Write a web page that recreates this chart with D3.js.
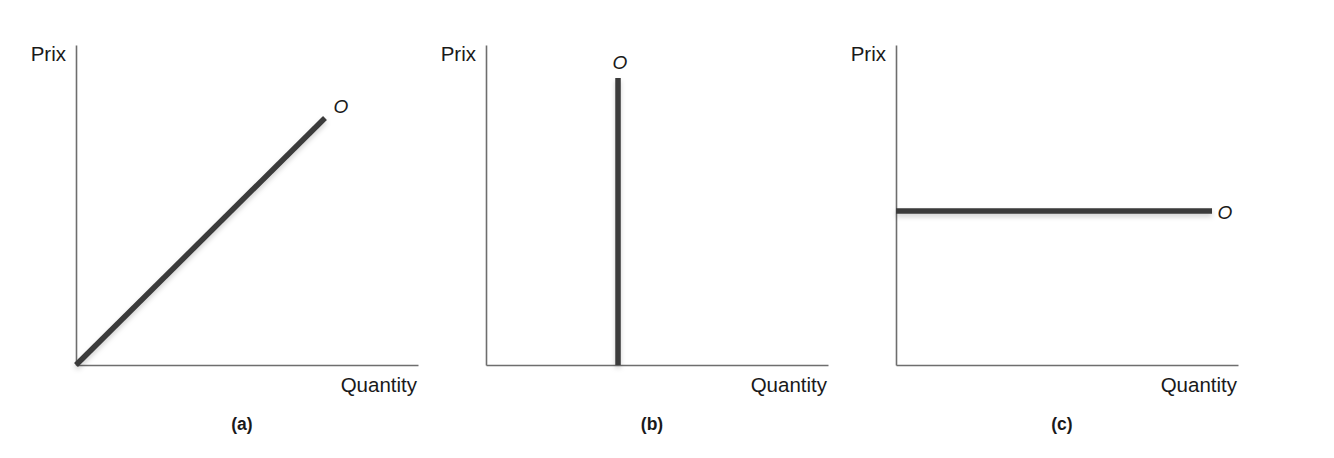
<!DOCTYPE html>
<html><head><meta charset="utf-8">
<script src="https://cdn.jsdelivr.net/npm/d3@7"></script>
<style>
html,body{margin:0;padding:0;background:#fff;}
text{font-family:"Liberation Sans",Arial,Helvetica,sans-serif;fill:#1a1a1a;}
</style></head><body>
<svg id="chart" width="1334" height="458"></svg>
<script>
// Panel definitions
const panels = ["(a)", "(b)", "(c)"];
const yLabel = "Prix";
const xLabel = "Quantity";
const curveLabel = "O";
// Supply curve endpoints (quantity, price) in a 0–10 abstract unit scale
const supplyA = [[0, 0], [7.28, 7.72]];
const supplyB = [[3.86, 0], [3.86, 8.97]];
const supplyC = [[0, 4.81], [9.24, 4.81]];
const supplies = [supplyA, supplyB, supplyC];

(function(){
const svg = d3.select("#chart");
const defs = svg.append("defs");
const f = defs.append("filter").attr("id","sh").attr("filterUnits","userSpaceOnUse")
  .attr("x",0).attr("y",0).attr("width",1334).attr("height",458);
f.append("feDropShadow").attr("dx",0).attr("dy",3).attr("stdDeviation",2.5).attr("flood-color","#000").attr("flood-opacity",0.18);

const originsX = [76, 486, 896];
const W = 342, yTop = 45, yBottom = 365;

panels.forEach((p, i) => {
  const x0 = originsX[i];
  const x = d3.scaleLinear().domain([0, 10]).range([x0, x0 + W]);
  const y = d3.scaleLinear().domain([0, 10]).range([yBottom, yTop]);
  const g = svg.append("g");

  g.append("g").attr("transform", `translate(0,${yBottom})`)
    .call(d3.axisBottom(x).ticks(0).tickSizeOuter(0));
  g.append("g").attr("transform", `translate(${x0},0)`)
    .call(d3.axisLeft(y).ticks(0).tickSizeOuter(0));
  g.selectAll(".domain").attr("stroke", "#6e6e6e").attr("stroke-width", 1.6);

  const d = supplies[i];
  g.append("path")
    .datum(d)
    .attr("d", d3.line().x(v => x(v[0])).y(v => y(v[1])))
    .attr("fill", "none")
    .attr("stroke", "#3b3b3b")
    .attr("stroke-width", 5.5)
    .attr("stroke-linecap", "butt")
    .attr("filter", "url(#sh)");

  g.append("text").attr("x", x0 - 10).attr("y", 61).attr("text-anchor", "end")
    .attr("font-size", 20.5).text(yLabel);
  g.append("text").attr("x", x0 + W - 1).attr("y", 392).attr("text-anchor", "end")
    .attr("font-size", 20.5).text(xLabel);
  g.append("text").attr("x", x0 + 166).attr("y", 430).attr("text-anchor", "middle")
    .attr("font-size", 17.5).attr("font-weight", "bold").attr("fill", "#333").text(p);

  const end = d[1];
  let lx, ly;
  if (i === 0) { lx = x(end[0]) + 16; ly = y(end[1]) - 5; }
  else if (i === 1) { lx = x(end[0]) + 2; ly = y(end[1]) - 9; }
  else { lx = x(end[0]) + 13; ly = y(end[1]) + 8; }
  g.append("text").attr("x", lx).attr("y", ly).attr("text-anchor", "middle")
    .attr("font-size", 19).attr("font-style", "italic").text(curveLabel);
});
})();
</script>
</body></html>
